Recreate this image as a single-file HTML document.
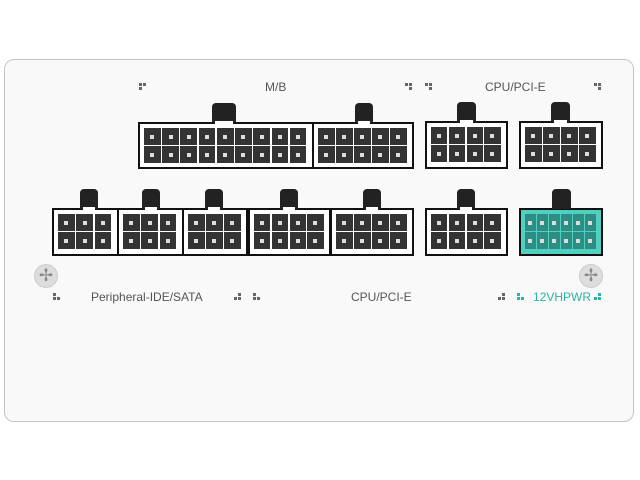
<!DOCTYPE html>
<html><head><meta charset="utf-8"><style>
body{margin:0;width:640px;height:480px;background:#fff;position:relative;overflow:hidden;font-family:"Liberation Sans",sans-serif}
#panel{position:absolute;left:4px;top:59px;width:630px;height:363px;border:1.5px solid #c4c4c4;border-radius:10px;background:#f9f9f9;box-sizing:border-box}
.c{position:absolute;border:2.5px solid #111;background:#fff;box-sizing:border-box}
.tab{position:absolute;background:#222;border-radius:4px 4px 0 0}
.cell{position:absolute;background:#333}
.cell::after{content:"";position:absolute;left:50%;top:50%;width:4px;height:4px;margin:-2px;background:#ddd}
.lbl{position:absolute;font-size:12px;color:#555}
.ic{position:absolute;width:9px;height:9px}
.ic i{position:absolute;width:3px;height:3px;background:#666}
.scr{position:absolute;width:22px;height:22px;border-radius:50%;background:#ddd;border:1px solid #ccc;color:#888;font-size:17px;line-height:22px;text-align:center}
</style></head><body>
<div id="panel"></div>
<div class="lbl" style="left:265px;top:80px">M/B</div>
<div class="lbl" style="left:485px;top:80px">CPU/PCI-E</div>
<div class="lbl" style="left:91px;top:290px">Peripheral-IDE/SATA</div>
<div class="lbl" style="left:351px;top:290px">CPU/PCI-E</div>
<div class="lbl" style="left:533px;top:290px;color:#2bb3a3">12VHPWR</div>
<div class="scr" style="left:34px;top:264px">✢</div>
<div class="scr" style="left:579px;top:264px">✢</div>
<script>
function conn(x,y,w,h,cols,tx,tw,green){
 var d=document.createElement('div');d.className='c';
 d.style.cssText+='left:'+x+'px;top:'+y+'px;width:'+w+'px;height:'+h+'px;'+(green?'background:#4fd0c0;':'');
 document.body.appendChild(d);
 var t=document.createElement('div');t.className='tab';
 t.style.cssText='left:'+tx+'px;top:'+(y-19)+'px;width:'+tw+'px;height:20px';
 document.body.appendChild(t);
 if(!green){var n=document.createElement('div');n.style.cssText='position:absolute;background:#fff;left:'+(tx+3)+'px;top:'+(y-1)+'px;width:'+(tw-6)+'px;height:5px';document.body.appendChild(n);}
 var iw=w-12,cw=iw/cols;
 for(var r=0;r<2;r++)for(var c=0;c<cols;c++){
  var e=document.createElement('div');e.className='cell';
  e.style.cssText='left:'+(x+6+c*cw)+'px;top:'+(y+6+r*18)+'px;width:'+(cw-1.5)+'px;height:17px;'+(green?'background:#2e8d82;':'');
  document.body.appendChild(e);}
}
conn(138,122,176,47,9,212,24);
conn(312,122,102,47,5,355,18);
conn(425,121,83,48,4,457,19);
conn(519,121,84,48,4,551,19);
conn(52,208,67,48,3,80,18);
conn(117,208,67,48,3,142,18);
conn(182,208,66,48,3,205,18);
conn(248,208,83,48,4,280,18);
conn(330,208,84,48,4,363,18);
conn(425,208,83,48,4,457,18);
conn(519,208,84,48,6,552,19,true);
function ic(x,y,p,col){var d=document.createElement('div');d.className='ic';d.style.cssText='left:'+x+'px;top:'+y+'px';
 p.forEach(function(q){var i=document.createElement('i');i.style.left=q[0]*4+'px';i.style.top=q[1]*4+'px';if(col)i.style.background=col;d.appendChild(i)});document.body.appendChild(d);}
var A=[[0,0],[1,0],[0,1]],B=[[0,0],[1,0],[1,1]],C=[[0,1],[1,1],[1,0]],D=[[0,0],[0,1],[1,1]];
ic(139,83,A);ic(405,83,B);ic(425,83,B);ic(594,83,B);
ic(53,293,D);ic(234,293,C);ic(253,293,D);ic(498,293,C);ic(517,293,D,'#2bb3a3');ic(594,293,C,'#2bb3a3');
</script>
</body></html>
